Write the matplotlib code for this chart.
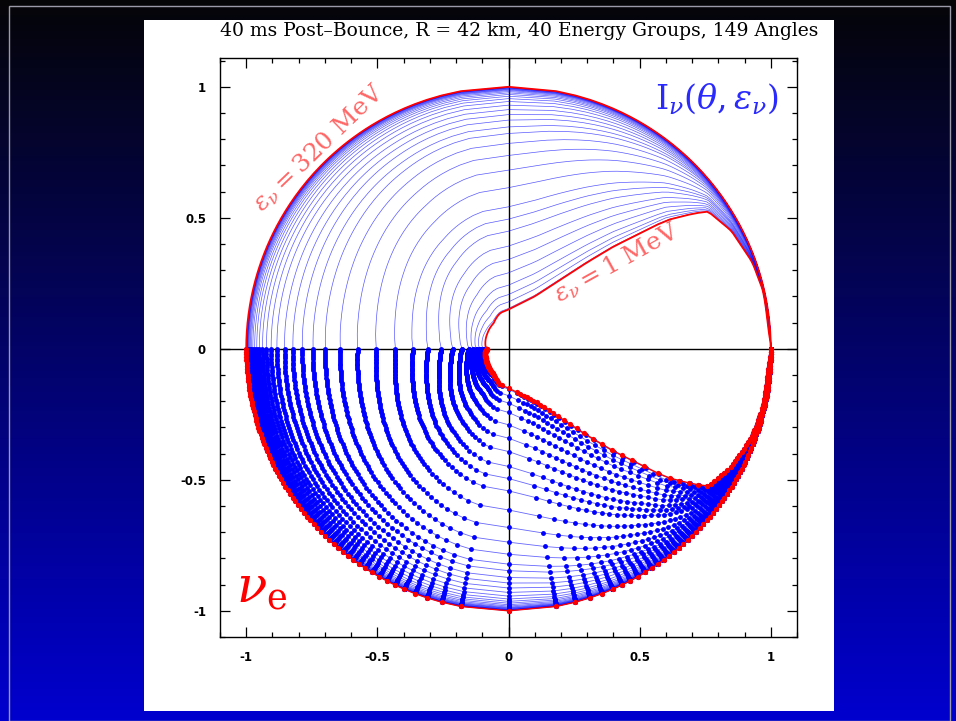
import numpy as np
import matplotlib.pyplot as plt
from matplotlib.patches import Rectangle
from matplotlib.ticker import MultipleLocator

plt.rcParams["mathtext.fontset"] = "dejavuserif"

# 1 MeV group, forward half (0..90 deg) read as y against x in the upper right quadrant
x_1mev = [0, 0.1, 0.2, 0.3, 0.4, 0.5, 0.6, 0.7, 0.76, 0.85, 0.93, 0.975, 1.0]
y_1mev = [0.15, 0.2, 0.265, 0.33, 0.39, 0.44, 0.49, 0.515, 0.525, 0.45, 0.33, 0.21, 0.0]
# 1 MeV group, backward half (90..180 deg) read as radius against angle
theta_back = [90, 103, 120, 143, 174, 180]
r_back_1mev = [0.15, 0.14, 0.113, 0.10, 0.088, 0.081]

# every energy group: radius at theta = 180 (on the -x axis) and at theta = 90 (on the y axis)
r_back = [0.081, 0.095, 0.108, 0.121, 0.135, 0.150, 0.177, 0.212, 0.256, 0.307,
          0.364, 0.431, 0.504, 0.575, 0.641, 0.698, 0.745, 0.786, 0.822, 0.854,
          0.883, 0.905, 0.923, 0.938, 0.950, 0.960, 0.968, 0.975, 0.980, 0.984,
          0.987, 0.990, 0.992, 0.994, 0.995, 0.996, 0.997, 0.998, 0.999, 1.0]
r_side = [0.150, 0.154, 0.179, 0.207, 0.243, 0.290, 0.341, 0.392, 0.449, 0.495,
          0.542, 0.615, 0.682, 0.738, 0.784, 0.822, 0.847, 0.873, 0.894, 0.913,
          0.930, 0.944, 0.955, 0.964, 0.971, 0.977, 0.982, 0.986, 0.989, 0.991,
          0.993, 0.995, 0.996, 0.997, 0.998, 0.998, 0.999, 0.999, 1.0, 1.0]

n_angles = 149

# angular grid, crowded towards 0 and 180 deg
t = np.linspace(-1, 1, n_angles)
theta = 90 - 90 * np.sign(t) * np.sqrt(np.abs(t))
back = theta >= 90
c90 = r_back_1mev[0]
c180 = r_back_1mev[-1]
r1_back = np.interp(theta[back], theta_back, r_back_1mev)

xs = np.linspace(0, 1, 3001)
y1 = np.interp(xs, x_1mev, y_1mev)
# round off the corners of the read polyline (moving average, ends held)
k = 61
y1 = np.convolve(np.pad(y1, k // 2, mode="edge"), np.ones(k) / k, mode="valid")
y1[-1] = 0.0
yc = np.sqrt(1 - xs ** 2)


def profile(rb, rs):
    w90 = (rs - c90) / (1 - c90)
    w180 = (rb - c180) / (1 - c180)
    r = np.empty_like(theta)
    # backward half: blend in radius between the 1 MeV curve and the unit circle
    w = w90 + (w180 - w90) * np.cos(np.radians(theta[back])) ** 2
    r[back] = r1_back + w * (1 - r1_back)
    # forward half: blend in height between the 1 MeV curve and the unit circle
    yb = y1 + w90 * (yc - y1)
    phi = np.degrees(np.arctan2(yb, xs))
    rho = np.hypot(xs, yb)
    r[~back] = np.interp(theta[~back], phi[::-1], rho[::-1])
    return r


fig = plt.figure(figsize=(9.56, 7.21), dpi=100)

bg = fig.add_axes([0, 0, 1, 1])
grad = np.linspace(0, 1, 256)[:, None, None] * np.array([-0.02, -0.02, 0.78]) + np.array([0.02, 0.02, 0.03])
bg.imshow(grad, aspect="auto", extent=[0, 1, 0, 1])
bg.add_patch(Rectangle((9 / 956, 0), 941 / 956, 715 / 721, fill=False, ec="#9a9aa8", lw=1))
bg.add_patch(Rectangle((144 / 956, 10 / 721), 690 / 956, 691 / 721, fc="white", ec="none"))
bg.set_xlim(0, 1)
bg.set_ylim(0, 1)
bg.axis("off")

ax = fig.add_axes([220 / 956, 84 / 721, 577 / 956, 579 / 721])
ax.set_xlim(-1.1, 1.1)
ax.set_ylim(-1.1, 1.11)

rad = np.radians(theta)
for i, (rb, rs) in enumerate(zip(r_back, r_side)):
    r = profile(rb, rs)
    x, y = r * np.cos(rad), r * np.sin(rad)
    if i == 0 or i == len(r_back) - 1:
        ax.plot(x, y, color="red", lw=1.3, zorder=5)
        ax.plot(x, -y, color="red", lw=1.0, marker="o", ms=3.8, mec="none", zorder=5)
    else:
        ax.plot(x, y, color="blue", lw=0.5, alpha=0.65, zorder=3)
        ax.plot(x, -y, color="blue", lw=0.6, alpha=0.6, zorder=3)
        ax.plot(x, -y, ls="none", marker="o", ms=3.5, color="blue", mec="none", zorder=4)

ax.axhline(0, color="black", lw=1, zorder=2)
ax.axvline(0, color="black", lw=1, zorder=2)

ax.set_xticks([-1, -0.5, 0, 0.5, 1])
ax.set_xticklabels(["-1", "-0.5", "0", "0.5", "1"])
ax.set_yticks([-1, -0.5, 0, 0.5, 1])
ax.set_yticklabels(["-1", "-0.5", "0", "0.5", "1"])
ax.xaxis.set_minor_locator(MultipleLocator(0.1))
ax.yaxis.set_minor_locator(MultipleLocator(0.1))
ax.tick_params(which="both", direction="in", top=True, right=True, width=0.9)
ax.tick_params(which="major", length=7, labelsize=8.5, pad=10)
ax.tick_params(which="minor", length=3.5)
for lab in ax.get_xticklabels() + ax.get_yticklabels():
    lab.set_fontweight("bold")
for s in ax.spines.values():
    s.set_linewidth(1)

fig.text(519 / 956, 1 - 31 / 721, "40 ms Post\u2013Bounce, R = 42 km, 40 Energy Groups, 149 Angles",
         ha="center", va="center", family="DejaVu Serif", fontsize=13.5)

ax.text(-0.725, 0.767, r"$\varepsilon_\nu = 320\ \mathrm{MeV}$", color="red", alpha=0.6,
        fontsize=18, rotation=44, ha="center", va="center", rotation_mode="anchor", zorder=6)
ax.text(0.412, 0.328, r"$\varepsilon_\nu = 1\ \mathrm{MeV}$", color="red", alpha=0.6,
        fontsize=18, rotation=29, ha="center", va="center", rotation_mode="anchor", zorder=6)
ax.text(0.794, 0.955, r"$\mathrm{I}_\nu(\theta,\varepsilon_\nu)$", color="#2a2aff",
        fontsize=24, ha="center", va="center", zorder=6)
ax.text(-0.94, -0.915, r"$\nu_\mathrm{e}$", color="red", fontsize=36,
        ha="center", va="center", zorder=6)

fig.savefig("out.png", dpi=100)
